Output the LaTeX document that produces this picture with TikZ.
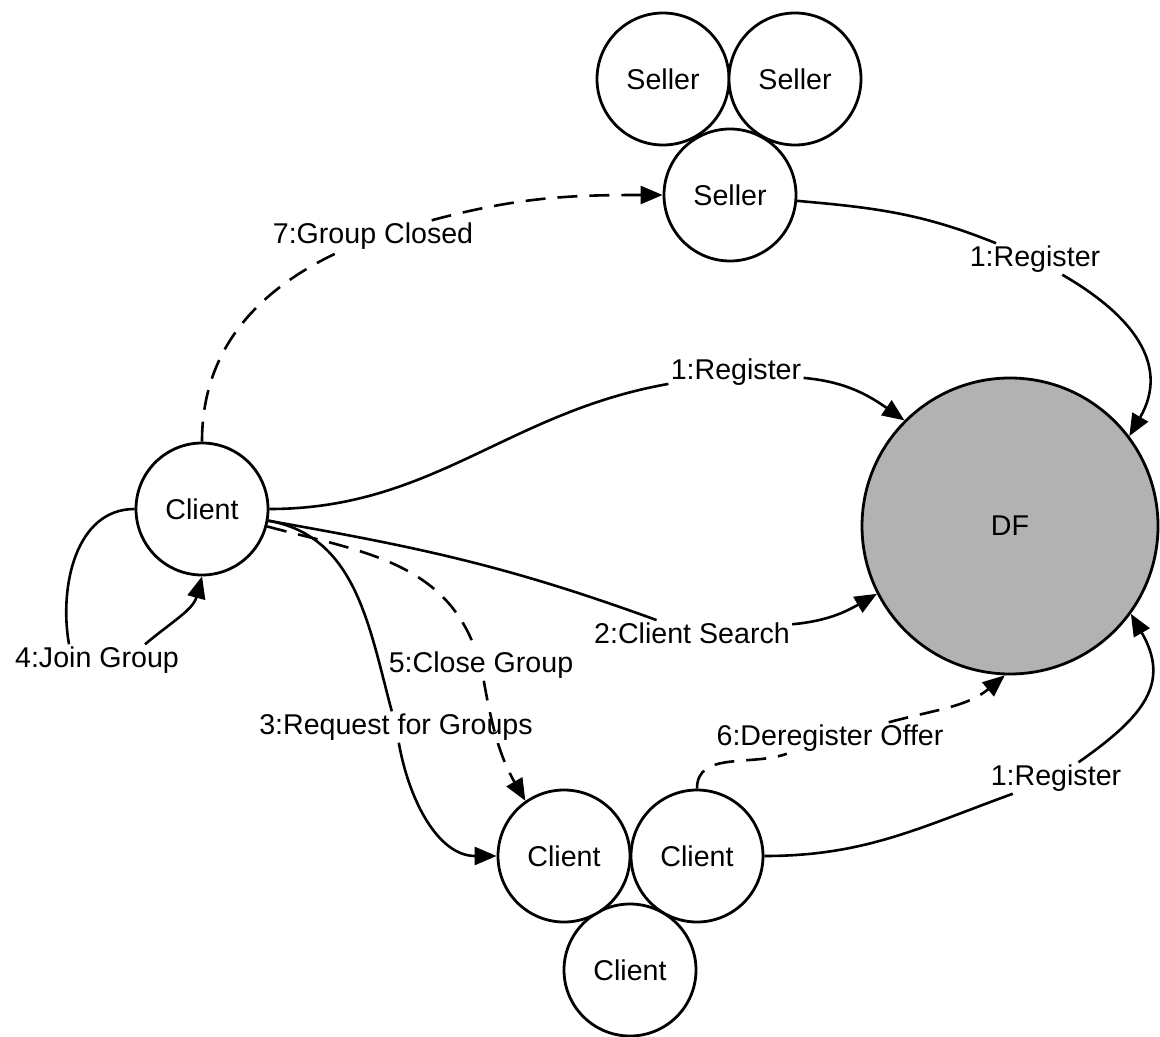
\documentclass[tikz,border=0pt]{standalone}
\usepackage{fontspec}
\setmainfont{Liberation Sans}
\usetikzlibrary{arrows.meta,calc}

\tikzset{
  agent/.style={circle, draw, line width=1.4pt, fill=white, minimum size=66pt, inner sep=0pt},
  dfbox/.style={agent, fill=black!30, minimum size=148pt},
  msg/.style={fill=white, inner sep=1pt},
  flow/.style={line width=1.3pt, -{Triangle[length=11pt,width=9pt]}},
  flowd/.style={flow, dash pattern=on 10pt off 6pt},
}

\begin{document}
\begin{tikzpicture}[x=0.5pt, y=0.5pt, font=\fontsize{14.3}{17}\selectfont]
			%%%%% START %%%%%
			\useasboundingbox (0,0) rectangle (1160,-1037);
			
			% agents
			\node[agent] (sellerA) at (663,-79) {Seller};
			\node[agent] (sellerB) at (795,-79) {Seller};
			\node[agent] (sellerC) at (730,-195) {Seller};
			\node[dfbox] (df) at (1010,-526) {DF};
			\node[agent] (client) at (202,-509) {Client};
			\node[agent] (clientC) at (630,-970) {Client};
			\node[agent] (clientA) at (564,-856) {Client};
			\node[agent] (clientB) at (697,-856) {Client};
			
			% messages
			\node[msg] (regS) at (1035,-259) {1:Register};
			\node[msg] (regC) at (736,-372) {1:Register};
			\node[msg] (search) at (692,-633) {2:Client Search};
			\node[msg] (request) at (396,-727) {3:Request for Groups};
			\node[msg] (join) at (97,-660) {4:Join Group};
			\node[msg] (close) at (481,-665) {5:Close Group};
			\node[msg] (dereg) at (830,-738) {6:Deregister Offer};
			\node[msg] (regB) at (1056,-778) {1:Register};
			\node[msg] (closed) at (373,-236) {7:Group Closed};
			
			% register
			\draw[flow] (sellerC) to[out=-5,in=158] (regS) to[out=-30,in=60,looseness=1.2] (df.37);
			\draw[flow] (client) to[out=0,in=190] (regC) to[out=-5,in=145] (df.135);
			\draw[flow] (clientB) to[out=0,in=200] (regB) to[out=35,in=-60,looseness=1.3] (df.324);
			
			% search, request, join
			\draw[flow] (client) to[out=-10,in=160] (search) to[out=5,in=210] (df.207);
			\draw[flow] (client) to[out=-10,in=105] (request) to[out=-80,in=180] (clientA);
			\draw[flow] (client.west) to[out=180,in=100] ([xshift=-14pt]join.north)
			            ([xshift=24pt]join.north) to[out=40,in=-105] (client.south);
			
			% closing
			\draw[flowd] (client) to[out=-15,in=110] (close) to[out=-80,in=120] (clientA.125);
			\draw[flowd] (clientB.90) to[out=90,in=200] (dereg) to[out=15,in=220] (df.268);
			\draw[flowd] (client.90) to[out=90,in=205] (closed) to[out=15,in=180] (sellerC.west);
			
			%%%%% END %%%%%
\end{tikzpicture}
\end{document}
